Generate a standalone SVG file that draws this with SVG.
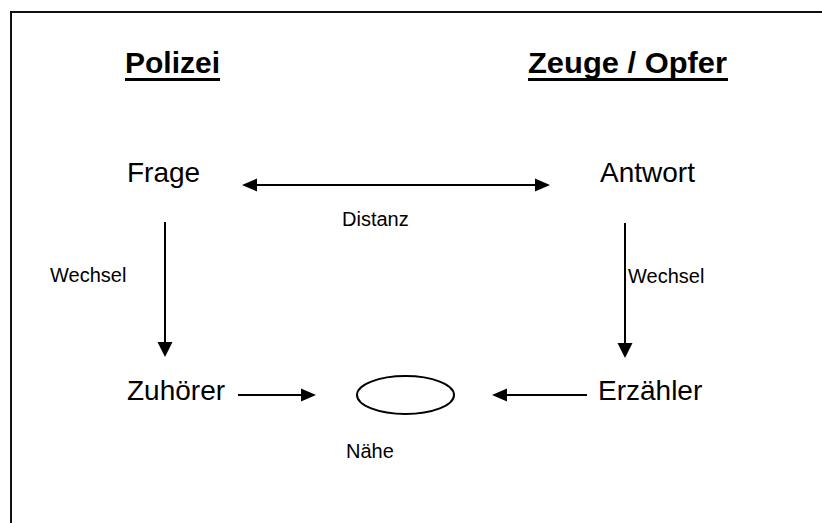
<svg xmlns="http://www.w3.org/2000/svg" width="822" height="523" viewBox="0 0 822 523">
<style>
text{font-family:"Liberation Sans",Arial,sans-serif;fill:#000}
.h{font-size:30px;font-weight:bold}
.n{font-size:28px}
.s{font-size:20px}
.c{stroke:#000;stroke-width:2;fill:none}
.ah{fill:#000;stroke:none}
</style>
<rect width="822" height="523" fill="#fff"/>
<g id="frame"><path d="M11 523V12H822" fill="none" stroke="#111" stroke-width="2"/></g>
<g id="polizei"><text class="h" x="125" y="73">Polizei</text><rect x="125" y="78" width="95" height="3" fill="#000"/></g>
<g id="zeuge"><text class="h" x="528" y="73" textLength="199" lengthAdjust="spacingAndGlyphs">Zeuge / Opfer</text><rect x="528" y="78" width="200" height="3" fill="#000"/></g>
<g id="frage"><text class="n" x="127" y="182">Frage</text></g>
<g id="antwort"><text class="n" x="600" y="182">Antwort</text></g>
<g id="zuhoerer"><text class="n" x="127" y="400">Zuhörer</text></g>
<g id="erzaehler"><text class="n" x="598" y="400">Erzähler</text></g>
<g id="naehe"><ellipse cx="405.5" cy="395" rx="48.5" ry="19" fill="#fff" stroke="#000" stroke-width="2"/><text class="s" x="346" y="458">Nähe</text></g>
<g id="connectors">
<line class="c" x1="255" y1="185" x2="537" y2="185"/>
<polygon class="ah" points="242,185 257,178.5 257,191.5"/>
<polygon class="ah" points="550,185 535,178.5 535,191.5"/>
<text class="s" x="342" y="226">Distanz</text>
<line class="c" x1="165" y1="222" x2="165" y2="344"/>
<polygon class="ah" points="165,357 157.5,342 172.5,342"/>
<text class="s" x="50" y="282">Wechsel</text>
<line class="c" x1="625" y1="223" x2="625" y2="345"/>
<polygon class="ah" points="625,358 617.5,343 632.5,343"/>
<text class="s" x="628" y="283">Wechsel</text>
<line class="c" x1="238" y1="395" x2="303" y2="395"/>
<polygon class="ah" points="316,395 301,388.5 301,401.5"/>
<line class="c" x1="505" y1="395" x2="587" y2="395"/>
<polygon class="ah" points="492,395 507,388.5 507,401.5"/>
</g>
</svg>
